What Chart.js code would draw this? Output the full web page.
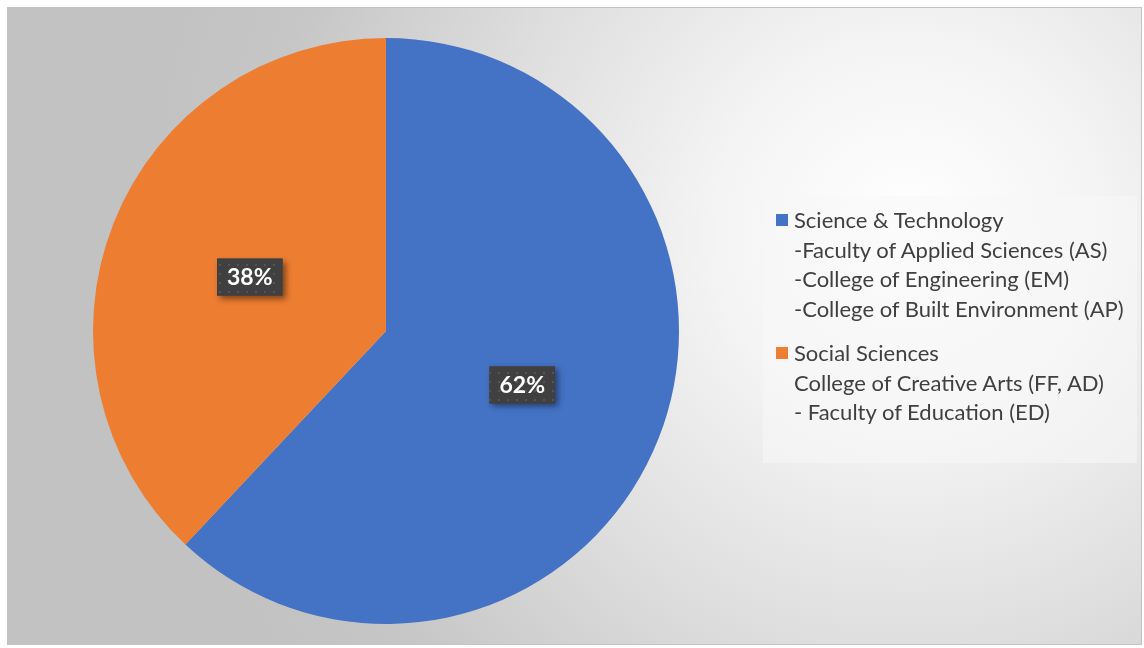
<!DOCTYPE html>
<html>
<head>
<meta charset="utf-8">
<script src="https://cdn.jsdelivr.net/npm/chart.js@4.4.1/dist/chart.umd.min.js"></script>
<style>
  html, body { margin: 0; padding: 0; background: #fff; }
  body { width: 1144px; height: 648px; position: relative; overflow: hidden; font-family: Lato, "Open Sans", sans-serif; }
  .frame {
    position: absolute; left: 7px; top: 7px; width: 1135px; height: 638px;
    box-sizing: border-box; border: 1px solid #c4c4c4;
    background: radial-gradient(circle 760px at 900px 225px, #ffffff 0%, #f4f4f4 25%, #dedede 55%, #c6c6c6 85%, #c2c2c2 100%);
  }
  .frame canvas { position: absolute; left: 0; top: 0; }
  .legend {
    position: absolute; left: 755px; top: 188px; width: 374px; height: 267px;
    background: rgba(248,248,248,0.55);
    color: #404040; font-size: 22px;
  }
  .legend-item { position: absolute; left: 13px; display: flex; }
  .legend-item .box { width: 12px; height: 12px; margin-top: 9px; margin-right: 6px; flex: none; }
  .legend-item .txt div { line-height: 29.5px; white-space: nowrap; }
</style>
</head>
<body>
<div class="frame">
  <canvas id="pie" width="1135" height="638"></canvas>
  <div class="legend" id="legend"></div>
</div>
<script>
// ─── Dados ────────────────────────────────────────────────
const categories = ['Science & Technology', 'Social Sciences'];
const subLines = [
  ['-Faculty of Applied Sciences (AS)', '-College of Engineering (EM)', '-College of Built Environment (AP)'],
  ['College of Creative Arts (FF, AD)', '- Faculty of Education (ED)'],
];
const shares = [62, 38];
const colors = ['#4472C4', '#ED7D31'];

// ─── Padrão pontilhado dos rótulos ────────────────────────
function makePattern(ctx) {
  const c = document.createElement('canvas');
  c.width = 9; c.height = 9;
  const p = c.getContext('2d');
  p.fillStyle = '#404040';
  p.fillRect(0, 0, 9, 9);
  p.fillStyle = '#545454';
  p.fillRect(4, 4, 2, 2);
  return ctx.createPattern(c, 'repeat');
}

const labelPlugin = {
  id: 'pctLabels',
  afterDatasetsDraw(chart) {
    const ctx = chart.ctx;
    const meta = chart.getDatasetMeta(0);
    const pattern = makePattern(ctx);
    ctx.save();
    ctx.font = 'bold 23px Lato, "Open Sans", sans-serif';
    meta.data.forEach((arc, i) => {
      const pos = arc.tooltipPosition();
      const text = shares[i] + '%';
      const w = ctx.measureText(text).width + 20;
      const h = 37;
      const x = pos.x - w / 2, y = pos.y - h / 2;
      ctx.save();
      ctx.shadowColor = 'rgba(0,0,0,0.45)';
      ctx.shadowBlur = 6;
      ctx.shadowOffsetX = 3;
      ctx.shadowOffsetY = 3;
      ctx.fillStyle = '#404040';
      ctx.fillRect(x, y, w, h);
      ctx.restore();
      ctx.fillStyle = pattern;
      ctx.fillRect(x, y, w, h);
      ctx.fillStyle = '#ffffff';
      ctx.textAlign = 'center';
      ctx.textBaseline = 'middle';
      ctx.fillText(text, pos.x, pos.y + 1);
    });
    ctx.restore();
  }
};

// ─── Legenda ──────────────────────────────────────────────
function buildLegend() {
  const tops = [9, 142];
  document.getElementById('legend').innerHTML = categories.map((cat, i) => `
    <div class="legend-item" style="top:${tops[i]}px">
      <span class="box" style="background:${colors[i]}"></span>
      <div class="txt">
        <div>${cat.replace('&', '&amp;')}</div>
        ${subLines[i].map(l => `<div>${l}</div>`).join('')}
      </div>
    </div>`).join('');
}

function draw() {
  buildLegend();
  new Chart(document.getElementById('pie'), {
    type: 'pie',
    data: {
      labels: categories,
      datasets: [{
        data: shares,
        backgroundColor: colors,
        borderWidth: 0,
      }]
    },
    options: {
      responsive: false,
      animation: false,
      layout: { padding: { left: 85, right: 464, top: 30, bottom: 22 } },
      plugins: { legend: { display: false }, tooltip: { enabled: false } }
    },
    plugins: [labelPlugin]
  });
}

document.fonts.load('bold 23px Lato').then(draw, draw);
</script>
</body>
</html>
